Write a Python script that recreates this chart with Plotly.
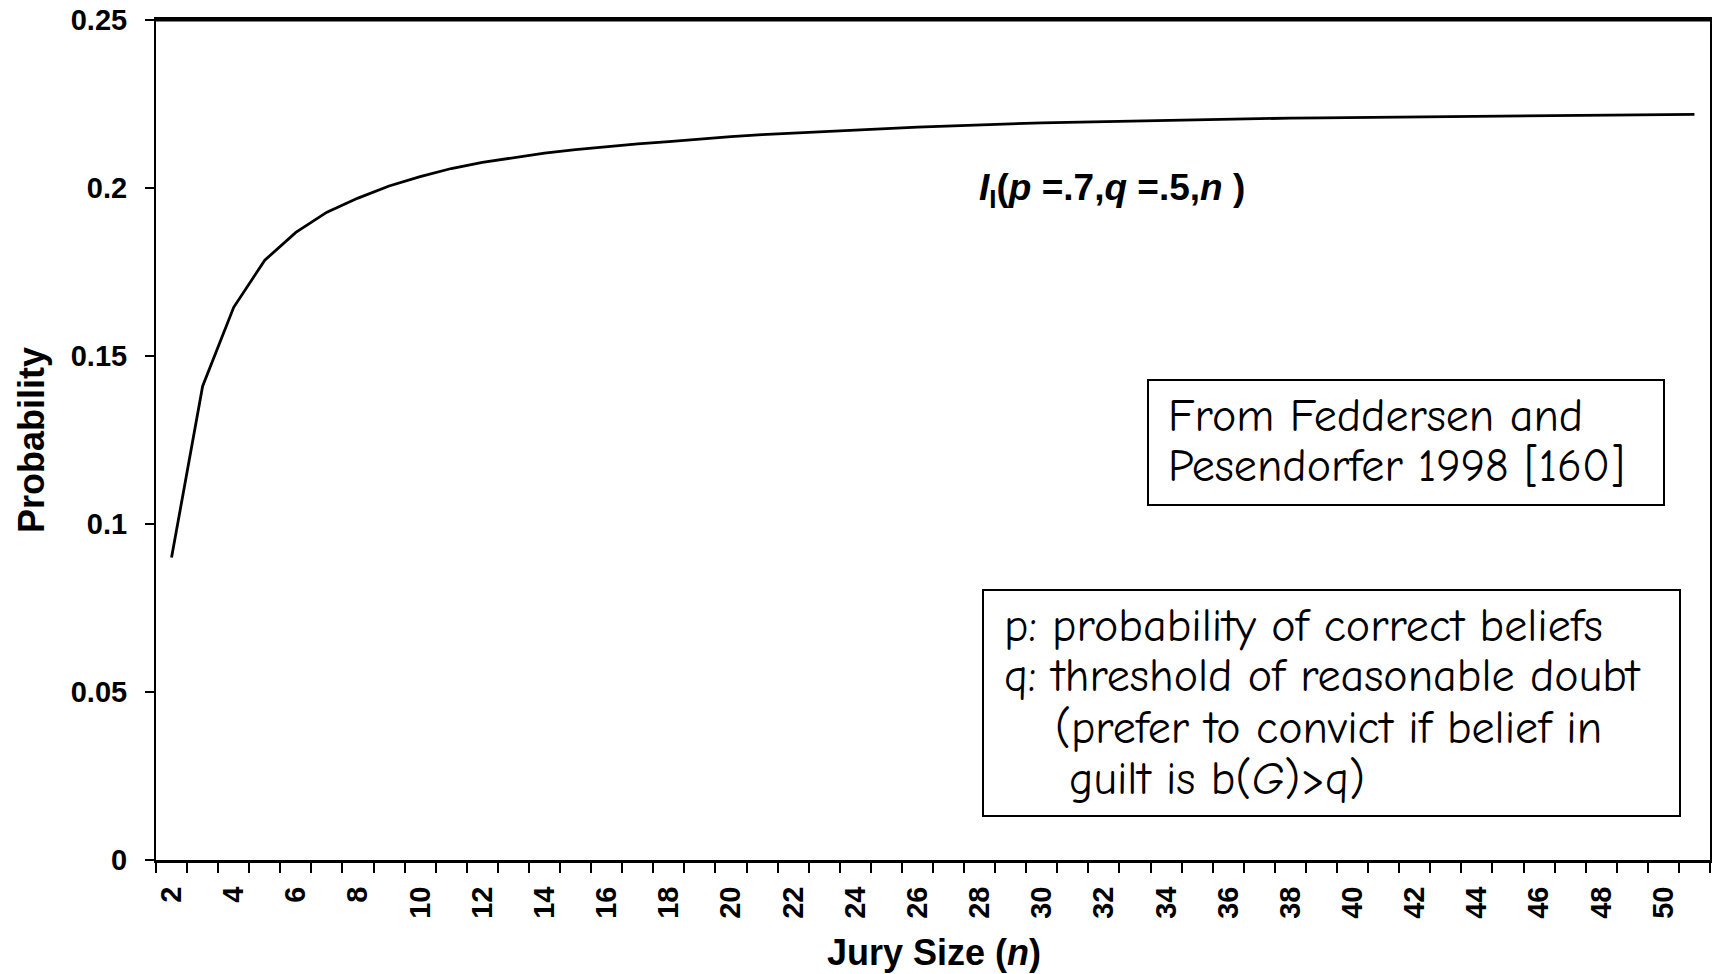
import plotly.graph_objects as go

jury_size = list(range(2, 52))
probability = [0.090, 0.141, 0.1645, 0.1785, 0.1868, 0.1928, 0.1970, 0.2006, 0.2034,
               0.2058, 0.2076, 0.2091, 0.2104, 0.2114, 0.2123, 0.2131, 0.2138, 0.2146,
               0.2153, 0.2159, 0.2164, 0.2169, 0.2173, 0.2177, 0.2181, 0.2185, 0.2188,
               0.2191, 0.2194, 0.2196, 0.2198, 0.2200, 0.2202, 0.2204, 0.2205, 0.2207,
               0.2208, 0.2209, 0.2210, 0.2211, 0.2212, 0.2213, 0.2214, 0.2215, 0.2216,
               0.2217, 0.2217, 0.2218, 0.2219, 0.2219]
x_tick_vals = list(range(2, 51, 2))
x_tick_text = [str(v) for v in x_tick_vals]
y_tick_vals = [0, 0.05, 0.1, 0.15, 0.2, 0.25]
y_tick_text = ["0", "0.05", "0.1", "0.15", "0.2", "0.25"]

W, H = 1716, 974
L, R, T, B = 156, 1710, 20, 860

def px(x):
    return (x - L) / (R - L)

def py(y):
    return (B - y) / (B - T)

SANS = "Liberation Sans, Arial, sans-serif"
axis_font = dict(family=SANS, size=29, color="black")
title_font = dict(family=SANS, size=36, color="black")
box_font = dict(family="Comic Sans MS, Comic Neue, Open Sans, sans-serif", size=46, color="black")

fig = go.Figure()
fig.add_trace(go.Scatter(x=jury_size, y=probability, mode="lines",
                         line=dict(color="black", width=2.8), showlegend=False,
                         hoverinfo="x+y"))

fig.update_layout(
    width=W, height=H,
    margin=dict(l=L, r=W - R, t=T, b=H - B, autoexpand=False),
    paper_bgcolor="white", plot_bgcolor="white",
    xaxis=dict(range=[1.5, 51.5], tickmode="array", tickvals=x_tick_vals,
               ticktext=["<b>%s</b>" % t for t in x_tick_text], tickangle=-90,
               ticks="", showgrid=False, zeroline=False, automargin=False,
               showline=True, linecolor="black", linewidth=3, mirror=True,
               tickfont=axis_font, ticklabelstandoff=12,
               minor=dict(tick0=1.5, dtick=1, ticks="outside", ticklen=10,
                          tickwidth=2, tickcolor="black", showgrid=False)),
    yaxis=dict(range=[0, 0.25], tickmode="array", tickvals=y_tick_vals,
               ticktext=["<b>%s</b>" % t for t in y_tick_text],
               ticks="outside", ticklen=9, tickwidth=2, tickcolor="black",
               showgrid=False, zeroline=False, automargin=False,
               showline=True, linecolor="black", linewidth=2, mirror=True,
               tickfont=axis_font, ticklabelstandoff=12),
)

# axis titles
fig.add_annotation(xref="paper", yref="paper", x=px(934), y=py(952), xanchor="center", yanchor="middle",
                   text="<b>Jury Size (<i>n</i>)</b>", showarrow=False, font=title_font)
fig.add_annotation(xref="paper", yref="paper", x=px(31), y=py(440), xanchor="center", yanchor="middle",
                   text="<b>Probability</b>", textangle=-90, showarrow=False, font=title_font)

# thicker top border
fig.add_shape(type="line", xref="paper", yref="paper", x0=0, x1=1, y0=1, y1=1,
              line=dict(color="black", width=3))

# curve label
fig.add_annotation(xref="paper", yref="paper", x=px(977), y=py(190), xanchor="left", yanchor="middle",
                   text="<b><i>I</i><sub>I</sub>(<i>p</i> =.7,<i>q</i> =.5,<i>n</i> )</b>",
                   showarrow=False, font=dict(family=SANS, size=37, color="black"))

# box 1
fig.add_shape(type="rect", xref="paper", yref="paper", x0=px(1148), x1=px(1664), y0=py(505), y1=py(380),
              line=dict(color="black", width=2), fillcolor="white")
for txt, yy in [("From Feddersen and", 416), ("Pesendorfer 1998 [160]", 466)]:
    fig.add_annotation(xref="paper", yref="paper", x=px(1166), y=py(yy), xanchor="left", yanchor="middle",
                       text=txt, showarrow=False, font=box_font)

# box 2
fig.add_shape(type="rect", xref="paper", yref="paper", x0=px(983), x1=px(1680), y0=py(816), y1=py(590),
              line=dict(color="black", width=2), fillcolor="white")
for txt, xx, yy in [("p: probability of correct beliefs", 1002, 626),
                    ("q: threshold of reasonable doubt", 1002, 676),
                    ("(prefer to convict if belief in", 1053, 728),
                    ("guilt is b(<i>G</i>)>q)", 1067, 779)]:
    fig.add_annotation(xref="paper", yref="paper", x=px(xx), y=py(yy), xanchor="left", yanchor="middle",
                       text=txt, showarrow=False, font=box_font)

fig.write_html("out.html", config={"displayModeBar": False},
               post_script="document.body.style.margin='0';document.body.style.padding='0';document.body.style.overflow='hidden';")
